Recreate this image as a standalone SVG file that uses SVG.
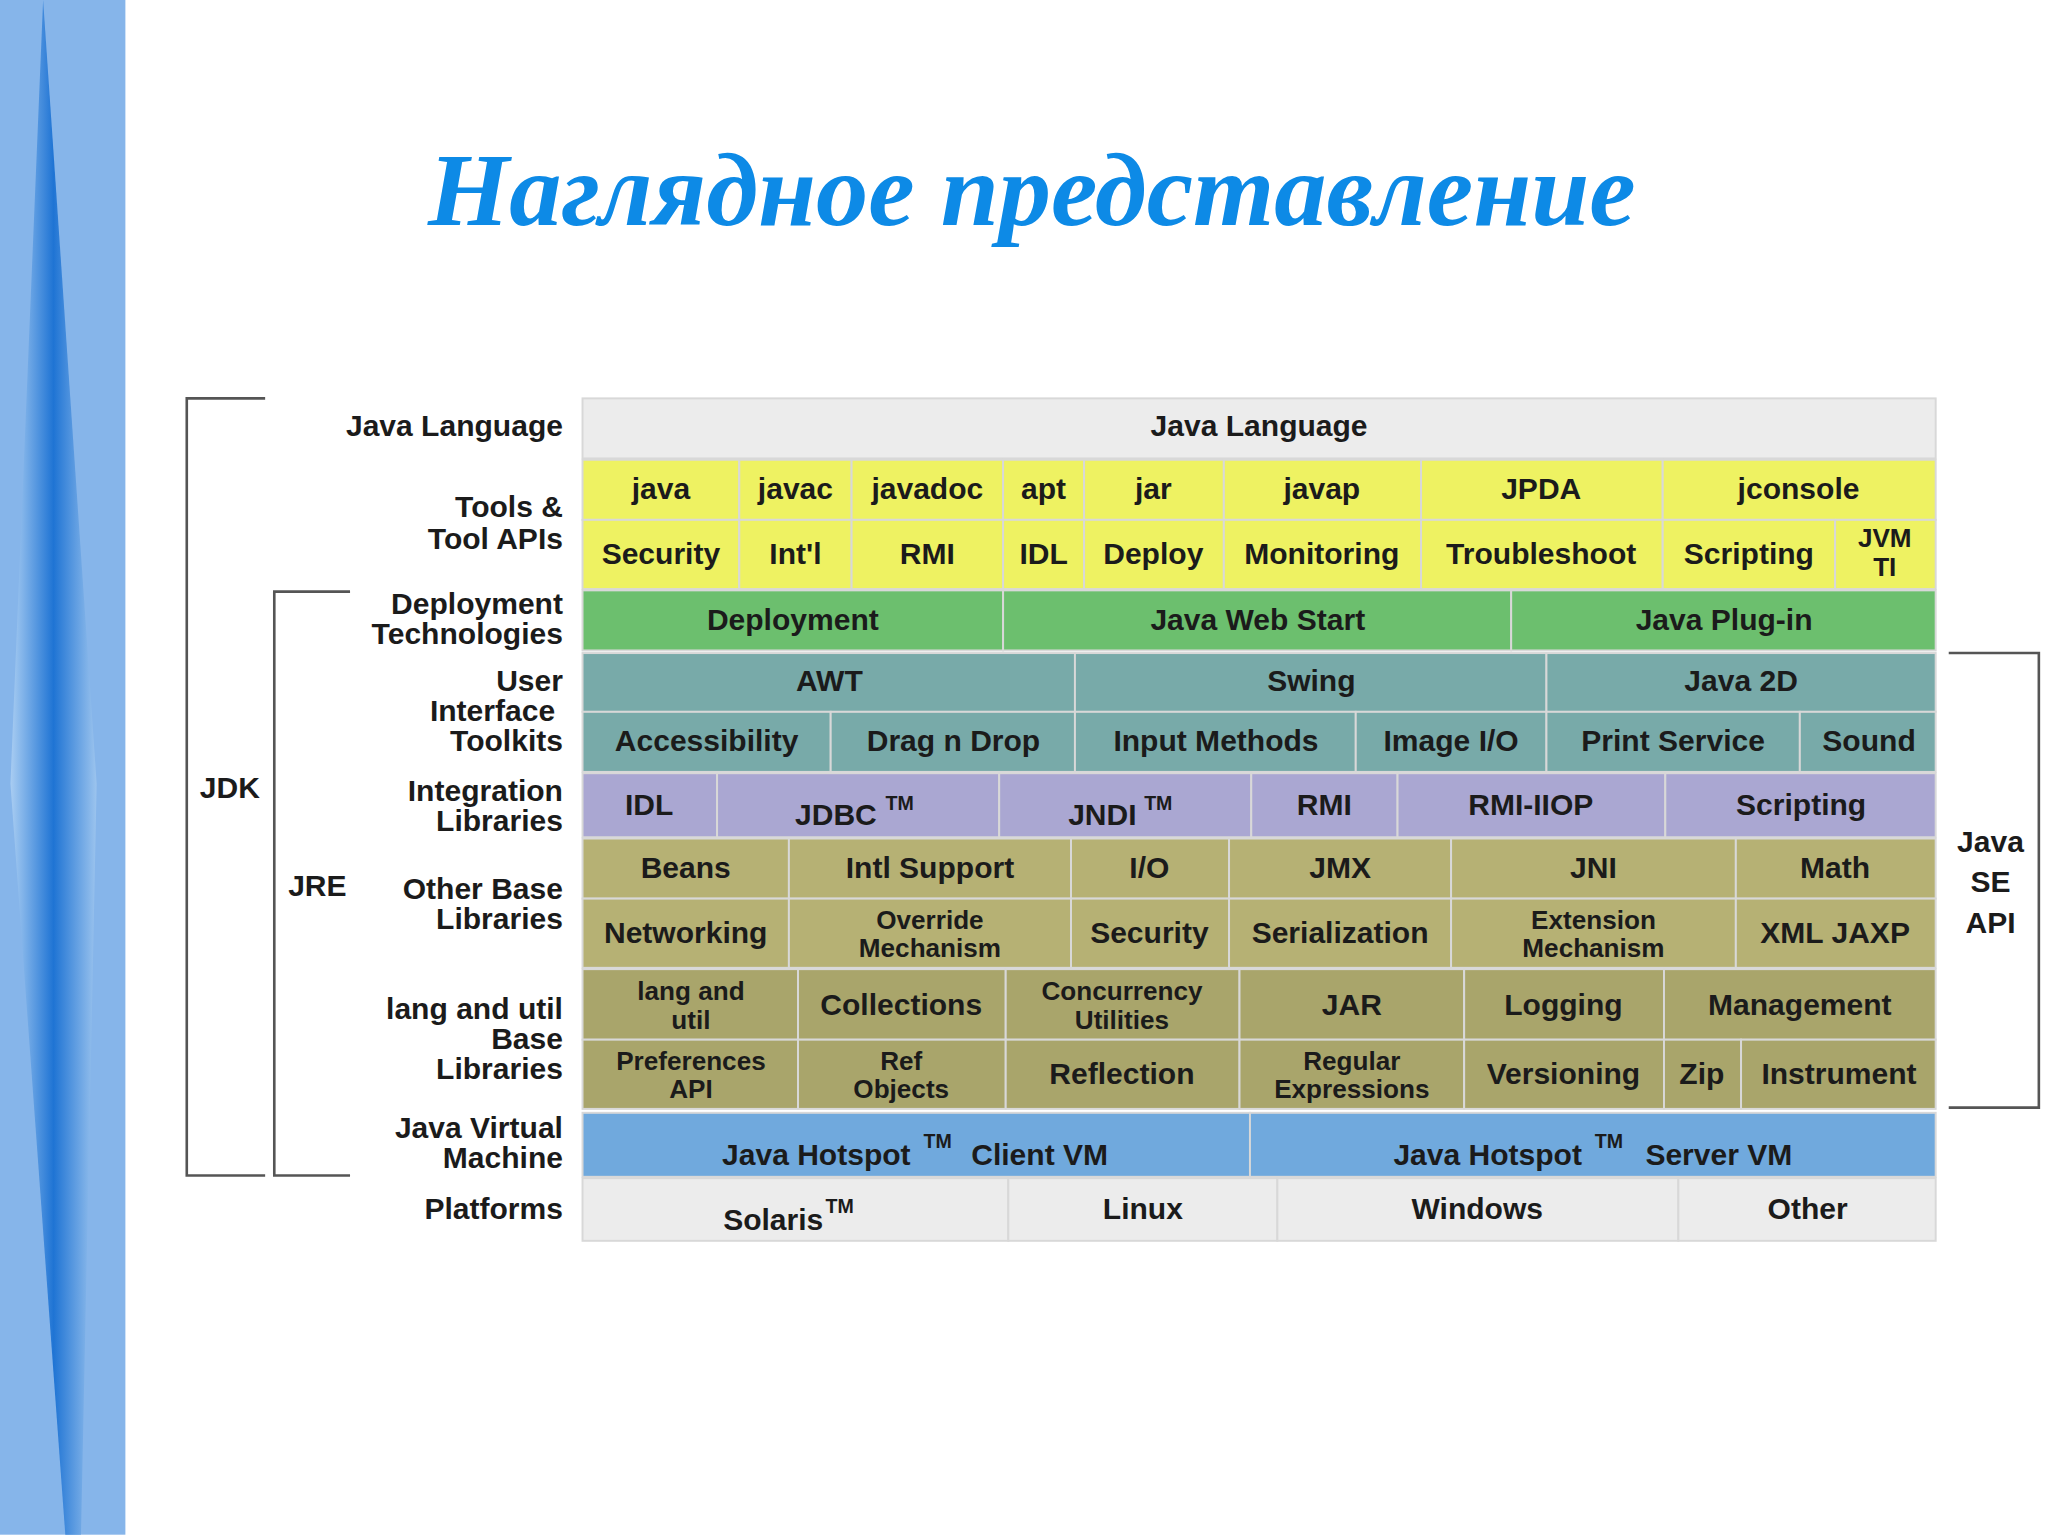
<svg xmlns="http://www.w3.org/2000/svg" width="2048" height="1535" viewBox="0 0 2048 1535">
<defs>
<linearGradient id="sp" x1="0" y1="0" x2="1" y2="0">
<stop offset="0" stop-color="#a9cdf2"/><stop offset="0.5" stop-color="#1f74d4"/><stop offset="1" stop-color="#9cc4ee"/>
</linearGradient>
<style>
.c{stroke:#d8d8d8;stroke-width:1.5}
.t{font-family:"Liberation Sans",Arial,sans-serif;font-weight:bold;font-size:23px;fill:#1b1b1b;text-anchor:middle}
.s{font-size:20px}
.d{font-size:20px}
.l{font-family:"Liberation Sans",Arial,sans-serif;font-weight:bold;font-size:23px;fill:#1b1b1b;text-anchor:end}
.b{fill:none;stroke:#555;stroke-width:2}
.tm{font-size:15px;text-anchor:start}
</style>
</defs>
<rect width="2048" height="1535" fill="#fff"/>
<g transform="scale(1.30612)">
<g id="strip">
<rect x="0" y="0" width="96" height="1175" fill="#86b5ea"/>
<polygon points="33,0 74,600 62,1175 50,1175 8,600" fill="url(#sp)"/>
</g>
<text x="790" y="172" font-family="Liberation Serif,serif" font-style="italic" font-weight="bold" font-size="80" fill="#0d8ae6" text-anchor="middle">Наглядное представление</text>

<g id="brackets">
<path class="b" d="M203,305 H143 V900 H203"/>
<path class="b" d="M268,453 H210 V900 H268"/>
<path class="b" d="M1492,500 H1561 V848 H1492"/>
<text class="t" x="176" y="611">JDK</text>
<text class="t" x="243" y="686">JRE</text>
<text class="t" x="1524" y="652">Java</text>
<text class="t" x="1524" y="683">SE</text>
<text class="t" x="1524" y="714">API</text>
</g>

<g id="labels">
<text class="l" x="431" y="334">Java Language</text>
<text class="l" x="431" y="396">Tools &amp;</text>
<text class="l" x="431" y="420">Tool APIs</text>
<text class="l" x="431" y="470">Deployment</text>
<text class="l" x="431" y="493">Technologies</text>
<text class="l" x="431" y="529">User</text>
<text class="l" x="425" y="552">Interface</text>
<text class="l" x="431" y="575">Toolkits</text>
<text class="l" x="431" y="613">Integration</text>
<text class="l" x="431" y="636">Libraries</text>
<text class="l" x="431" y="688">Other Base</text>
<text class="l" x="431" y="711">Libraries</text>
<text class="l" x="431" y="780">lang and util</text>
<text class="l" x="431" y="803">Base</text>
<text class="l" x="431" y="826">Libraries</text>
<text class="l" x="431" y="871">Java Virtual</text>
<text class="l" x="431" y="894">Machine</text>
<text class="l" x="431" y="933">Platforms</text>
</g>

<g id="java-language">
<rect class="c" x="446" y="305" width="1036" height="46" fill="#ececec"/>
<text class="t" x="964" y="334">Java Language</text>
</g>

<g id="tools" class="c" fill="#eef262">
<rect x="446" y="352" width="120" height="46"/><rect x="566" y="352" width="86" height="46"/><rect x="652" y="352" width="116" height="46"/><rect x="768" y="352" width="62" height="46"/><rect x="830" y="352" width="107" height="46"/><rect x="937" y="352" width="151" height="46"/><rect x="1088" y="352" width="185" height="46"/><rect x="1273" y="352" width="209" height="46"/>
<rect x="446" y="398" width="120" height="53"/><rect x="566" y="398" width="86" height="53"/><rect x="652" y="398" width="116" height="53"/><rect x="768" y="398" width="62" height="53"/><rect x="830" y="398" width="107" height="53"/><rect x="937" y="398" width="151" height="53"/><rect x="1088" y="398" width="185" height="53"/><rect x="1273" y="398" width="132" height="53"/><rect x="1405" y="398" width="77" height="53"/>
</g>
<g id="tools-text">
<text class="t" x="506" y="382">java</text><text class="t" x="609" y="382">javac</text><text class="t" x="710" y="382">javadoc</text><text class="t" x="799" y="382">apt</text><text class="t" x="883" y="382">jar</text><text class="t" x="1012" y="382">javap</text><text class="t" x="1180" y="382">JPDA</text><text class="t" x="1377" y="382">jconsole</text>
<text class="t" x="506" y="432">Security</text><text class="t" x="609" y="432">Int'l</text><text class="t" x="710" y="432">RMI</text><text class="t" x="799" y="432">IDL</text><text class="t" x="883" y="432">Deploy</text><text class="t" x="1012" y="432">Monitoring</text><text class="t" x="1180" y="432">Troubleshoot</text><text class="t" x="1339" y="432">Scripting</text>
<text class="t s" x="1443" y="419">JVM</text><text class="t s" x="1443" y="441">TI</text>
</g>

<g id="deployment" class="c" fill="#6cbf6e">
<rect x="446" y="452" width="322" height="46"/><rect x="768" y="452" width="389" height="46"/><rect x="1157" y="452" width="325" height="46"/>
</g>
<g id="deployment-text">
<text class="t" x="607" y="482">Deployment</text><text class="t" x="963" y="482">Java Web Start</text><text class="t" x="1320" y="482">Java Plug-in</text>
</g>

<g id="ui" class="c" fill="#78aaa9">
<rect x="446" y="500" width="377" height="45"/><rect x="823" y="500" width="361" height="45"/><rect x="1184" y="500" width="298" height="45"/>
<rect x="446" y="545" width="190" height="46"/><rect x="636" y="545" width="187" height="46"/><rect x="823" y="545" width="215" height="46"/><rect x="1038" y="545" width="146" height="46"/><rect x="1184" y="545" width="194" height="46"/><rect x="1378" y="545" width="104" height="46"/>
</g>
<g id="ui-text">
<text class="t" x="635" y="529">AWT</text><text class="t" x="1004" y="529">Swing</text><text class="t" x="1333" y="529">Java 2D</text>
<text class="t" x="541" y="575">Accessibility</text><text class="t" x="730" y="575">Drag n Drop</text><text class="t" x="931" y="575">Input Methods</text><text class="t" x="1111" y="575">Image I/O</text><text class="t" x="1281" y="575">Print Service</text><text class="t" x="1431" y="575">Sound</text>
</g>

<g id="integration" class="c" fill="#aaa7d2">
<rect x="446" y="592" width="103" height="49"/><rect x="549" y="592" width="216" height="49"/><rect x="765" y="592" width="193" height="49"/><rect x="958" y="592" width="112" height="49"/><rect x="1070" y="592" width="205" height="49"/><rect x="1275" y="592" width="207" height="49"/>
</g>
<g id="integration-text">
<text class="t" x="497" y="624">IDL</text>
<text class="t" x="640" y="632">JDBC</text><text class="t tm" x="678" y="620">TM</text>
<text class="t" x="844" y="632">JNDI</text><text class="t tm" x="876" y="620">TM</text>
<text class="t" x="1014" y="624">RMI</text><text class="t" x="1172" y="624">RMI-IIOP</text><text class="t" x="1379" y="624">Scripting</text>
</g>

<g id="other-base" class="c" fill="#b6b174">
<rect x="446" y="642" width="158" height="46"/><rect x="604" y="642" width="216" height="46"/><rect x="820" y="642" width="121" height="46"/><rect x="941" y="642" width="170" height="46"/><rect x="1111" y="642" width="218" height="46"/><rect x="1329" y="642" width="153" height="46"/>
<rect x="446" y="688" width="158" height="53"/><rect x="604" y="688" width="216" height="53"/><rect x="820" y="688" width="121" height="53"/><rect x="941" y="688" width="170" height="53"/><rect x="1111" y="688" width="218" height="53"/><rect x="1329" y="688" width="153" height="53"/>
</g>
<g id="other-base-text">
<text class="t" x="525" y="672">Beans</text><text class="t" x="712" y="672">Intl Support</text><text class="t" x="880" y="672">I/O</text><text class="t" x="1026" y="672">JMX</text><text class="t" x="1220" y="672">JNI</text><text class="t" x="1405" y="672">Math</text>
<text class="t" x="525" y="722">Networking</text><text class="t d" x="712" y="711">Override</text><text class="t d" x="712" y="733">Mechanism</text><text class="t" x="880" y="722">Security</text><text class="t" x="1026" y="722">Serialization</text><text class="t d" x="1220" y="711">Extension</text><text class="t d" x="1220" y="733">Mechanism</text><text class="t" x="1405" y="722">XML JAXP</text>
</g>

<g id="lang-util" class="c" fill="#a9a56b">
<rect x="446" y="742" width="165" height="54"/><rect x="611" y="742" width="159" height="54"/><rect x="770" y="742" width="179" height="54"/><rect x="949" y="742" width="172" height="54"/><rect x="1121" y="742" width="153" height="54"/><rect x="1274" y="742" width="208" height="54"/>
<rect x="446" y="796" width="165" height="53"/><rect x="611" y="796" width="159" height="53"/><rect x="770" y="796" width="179" height="53"/><rect x="949" y="796" width="172" height="53"/><rect x="1121" y="796" width="153" height="53"/><rect x="1274" y="796" width="59" height="53"/><rect x="1333" y="796" width="149" height="53"/>
</g>
<g id="lang-util-text">
<text class="t d" x="529" y="766">lang and</text><text class="t d" x="529" y="788">util</text><text class="t" x="690" y="777">Collections</text><text class="t d" x="859" y="766">Concurrency</text><text class="t d" x="859" y="788">Utilities</text><text class="t" x="1035" y="777">JAR</text><text class="t" x="1197" y="777">Logging</text><text class="t" x="1378" y="777">Management</text>
<text class="t d" x="529" y="819">Preferences</text><text class="t d" x="529" y="841">API</text><text class="t d" x="690" y="819">Ref</text><text class="t d" x="690" y="841">Objects</text><text class="t" x="859" y="830">Reflection</text><text class="t d" x="1035" y="819">Regular</text><text class="t d" x="1035" y="841">Expressions</text><text class="t" x="1197" y="830">Versioning</text><text class="t" x="1303" y="830">Zip</text><text class="t" x="1408" y="830">Instrument</text>
</g>

<g id="jvm" class="c" fill="#70a9dd">
<rect x="446" y="852" width="511" height="49"/><rect x="957" y="852" width="525" height="49"/>
</g>
<g id="jvm-text">
<text class="t" x="625" y="892">Java Hotspot</text><text class="t tm" x="707" y="879">TM</text><text class="t" x="796" y="892">Client VM</text>
<text class="t" x="1139" y="892">Java Hotspot</text><text class="t tm" x="1221" y="879">TM</text><text class="t" x="1316" y="892">Server VM</text>
</g>

<g id="platforms" class="c" fill="#ececec">
<rect x="446" y="902" width="326" height="48"/><rect x="772" y="902" width="206" height="48"/><rect x="978" y="902" width="307" height="48"/><rect x="1285" y="902" width="197" height="48"/>
</g>
<g id="platforms-text">
<text class="t" x="592" y="942">Solaris</text><text class="t tm" x="632" y="929">TM</text>
<text class="t" x="875" y="933">Linux</text><text class="t" x="1131" y="933">Windows</text><text class="t" x="1384" y="933">Other</text>
</g>
</g>
</svg>
